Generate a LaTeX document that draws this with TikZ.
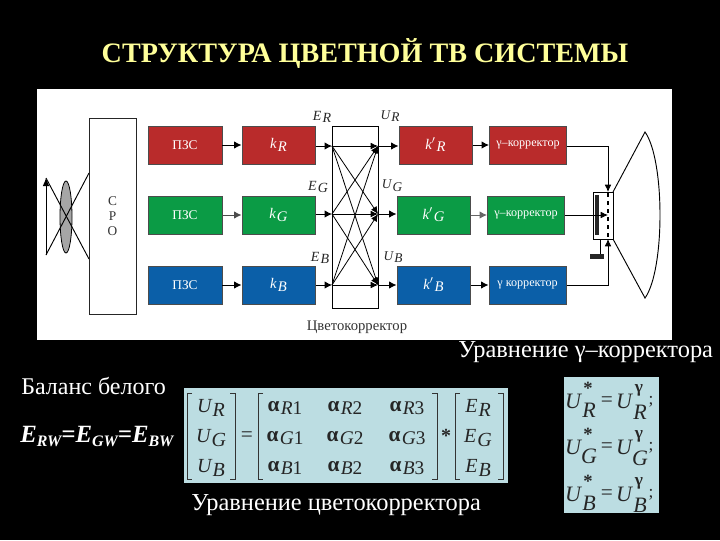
\documentclass[tikz,border=0pt]{standalone}
\usepackage{fontspec}
\setmainfont{Liberation Serif}
\usetikzlibrary{arrows.meta,shapes.geometric}
\definecolor{boxR}{HTML}{B92B2B}
\definecolor{boxG}{HTML}{0B9B45}
\definecolor{boxB}{HTML}{0B5FA8}
\definecolor{panel}{HTML}{BCDDE2}
\definecolor{titlecol}{HTML}{FFFF99}
\newcommand{\fs}[1]{\fontsize{#1}{#1}\selectfont}
\newcommand{\lowsub}[4]{{\fs{#3}\itshape #1}\kern.8pt\raisebox{-#4}{\fs{#3}\itshape #2}}
\newcommand{\alp}[2]{{\fs{16}\bfseries α}\kern1pt\raisebox{-2.5pt}{\fs{14.5}{\itshape #1}#2}}
\tikzset{
  colbox/.style={draw=black!70,line width=.5pt,minimum height=28.5pt,inner sep=0pt,text=white,font=\fs{10}},
  wire/.style={draw=black,line width=.7pt,-{Latex[length=5.5pt,width=5.5pt]}},
  plain/.style={draw=black,line width=.7pt},
  cross/.style={draw=black,line width=.6pt,-{Latex[length=5.5pt,width=5pt]}},
  caplabel/.style={inner sep=0pt,text=white,font=\fs{18.3}},
  siglab/.style={inner sep=0pt,text=black!85,font=\fs{10.5}},
  cell/.style={inner sep=0pt,text=black!85},
  geq/.style={inner sep=0pt,text=black!85,font=\fs{16.5}\itshape},
  gsym/.style={inner sep=0pt,text=black!85,font=\fs{16}},
}
\begin{document}
\begin{tikzpicture}[x=.75pt,y=-.75pt]
\useasboundingbox (0,0) rectangle (720,540);
\fill[black] (0,0) rectangle (720,540);
\fill[white] (37,89) rectangle (672,340);
\node[inner sep=0pt,text=titlecol,font=\fs{21.1}\bfseries] (title) at (365,54) {СТРУКТУРА ЦВЕТНОЙ ТВ СИСТЕМЫ};

% optics
\node[draw=black,line width=.6pt,fill=black!35,shape=ellipse,minimum width=9pt,minimum height=54pt,inner sep=0pt] (lens) at (66,217) {};
\coordinate (objB) at (46,255);
\coordinate (objT) at (46,178);
\coordinate (sroT) at (89,173);
\coordinate (sroB) at (89,259);
\draw[plain,-{Latex[length=6pt,width=5pt]}] (objB) -- (objT);
\draw[plain] (objT) -- (sroB);
\draw[plain] (objB) -- (sroT);
\node[draw=black!85,line width=.6pt,fill=white,minimum width=35.25pt,minimum height=147pt,inner sep=0pt,align=center,text=black!80,font=\fs{10}] (sro) at (112.5,216) {С\\[1pt]Р\\[1pt]О};

% row boxes
\node[colbox,fill=boxR,minimum width=55.5pt] (pzsR) at (185,145) {ПЗС};
\node[colbox,fill=boxG,minimum width=55.5pt] (pzsG) at (185,215) {ПЗС};
\node[colbox,fill=boxB,minimum width=55.5pt] (pzsB) at (185,285) {ПЗС};
\node[colbox,fill=boxR,minimum width=55pt] (kR) at (278.5,145) {\lowsub{k}{R}{11}{2pt}};
\node[colbox,fill=boxG,minimum width=55pt] (kG) at (278.5,215) {\lowsub{k}{G}{11}{2pt}};
\node[colbox,fill=boxB,minimum width=55pt] (kB) at (278.5,285) {\lowsub{k}{B}{11}{2pt}};
\node[colbox,fill=boxR,minimum width=55pt] (kpR) at (435.5,145) {\lowsub{k$'$}{R}{11}{2pt}};
\node[colbox,fill=boxG,minimum width=55pt] (kpG) at (433.5,215) {\lowsub{k$'$}{G}{11}{2pt}};
\node[colbox,fill=boxB,minimum width=55pt] (kpB) at (433.5,285) {\lowsub{k$'$}{B}{11}{2pt}};
\node[colbox,fill=boxR,minimum width=58pt,font=\fs{9.1}] (gamR) at (528,145) {γ–корректор};
\node[colbox,fill=boxG,minimum width=58pt,font=\fs{9.1}] (gamG) at (526,215) {γ–корректор};
\node[colbox,fill=boxB,minimum width=58pt,font=\fs{9.1}] (gamB) at (527.5,285) {γ корректор};

% colour corrector
\node[draw=black,line width=.7pt,minimum width=34.5pt,minimum height=136.5pt,inner sep=0pt] (cc) at (355,217) {};
\coordinate (inR) at (332,146);
\coordinate (inG) at (332,214);
\coordinate (inB) at (332,285);
\coordinate (outR) at (378,146);
\coordinate (outG) at (378,214);
\coordinate (outB) at (378,285);
\draw[wire] (pzsR) -- (kR);
\draw[wire,draw=black!70] (pzsG) -- (kG);
\draw[wire] (pzsB) -- (kB);
\draw[wire] (kR.east |- inR) -- (inR);
\draw[wire] (kG.east |- inG) -- (inG);
\draw[wire] (kB.east |- inB) -- (inB);
\foreach \a in {R,G,B}{\foreach \b in {R,G,B}{\draw[cross] (in\a) -- (out\b);}}
\draw[wire] (outR) -- (kpR.west |- outR);
\draw[wire] (outG) -- (kpG.west |- outG);
\draw[wire] (outB) -- (kpB.west |- outB);
\draw[wire] (kpR) -- (gamR);
\draw[wire,draw=black!60] (kpG) -- (gamG);
\draw[wire] (kpB) -- (gamB);

% signal labels
\node[siglab] (eR) at (322,117) {\lowsub{E}{R}{10.5}{2pt}};
\node[siglab] (eG) at (318,187) {\lowsub{E}{G}{10.5}{2pt}};
\node[siglab] (eB) at (320,258) {\lowsub{E}{B}{10.5}{2pt}};
\node[siglab] (uR) at (390,116) {\lowsub{U}{R}{10}{2pt}};
\node[siglab] (uG) at (392,186) {\lowsub{U}{G}{10}{2pt}};
\node[siglab] (uB) at (393,257) {\lowsub{U}{B}{10}{2pt}};
\node[inner sep=0pt,text=black!80,font=\fs{11}] (cclab) at (357,327) {Цветокорректор};

% tube
\node[draw=black,line width=.7pt,minimum width=15pt,minimum height=35.25pt,inner sep=0pt] (neck) at (603,215.5) {};
\fill[black!85] (595,195) rectangle (599,235);
\draw[black,line width=.8pt,dashed] (608,193) -- (608,239);
\coordinate (scrT) at (645,132);
\coordinate (scrB) at (645,298);
\coordinate (entR) at (608,192);
\coordinate (entB) at (608,239);
\coordinate (entG) at (608,215);
\coordinate (cornR) at (608,146);
\coordinate (cornB) at (608,285);
\coordinate (gnd) at (600,255);
\draw[plain] (613,192) -- (scrT) .. controls (665,160) and (665,270) .. (scrB) -- (613,239);
\draw[plain,line width=.6pt,-{Latex[length=5.5pt,width=5pt]}] (gamR.east |- cornR) -- (cornR) -- (entR);
\draw[plain,line width=.6pt,-{Latex[length=5.5pt,width=5pt]}] (gamB.east |- cornB) -- (cornB) -- (entB);
\draw[plain,line width=.6pt,-{Latex[length=5.5pt,width=5pt]}] (gamG.east |- entG) -- (entG);
\draw[plain] (600,239) -- (gnd);
\fill[black!85] (590,254) rectangle (604,259);

% captions
\node[caplabel,anchor=west] (capG) at (458,352) {Уравнение γ–корректора};
\node[caplabel,anchor=west,font=\fs{18}] (capW) at (21,386) {Баланс белого};
\node[caplabel,anchor=west,font=\fs{18.6}\bfseries\itshape] (bal) at (20,436) {E\raisebox{-3pt}{\fs{12}RW}=E\raisebox{-3pt}{\fs{12}GW}=E\raisebox{-3pt}{\fs{12}BW}};
\node[caplabel,anchor=west] (capC) at (191,505) {Уравнение цветокорректора};

% matrix panel
\fill[panel] (184,388) rectangle (508,483);
\foreach \x/\d in {187/1,235/-1,258/1,437/-1,455/1,503/-1}{
  \draw[black!80,line width=.6pt] (\x+\d*5,393) -- (\x,393) -- (\x,479) -- (\x+\d*5,479);
}
\node[cell] (mUR) at (211,408) {\lowsub{U}{R}{15}{2.5pt}};
\node[cell] (mUG) at (211,438) {\lowsub{U}{G}{15}{2.5pt}};
\node[cell] (mUB) at (211,468) {\lowsub{U}{B}{15}{2.5pt}};
\node[cell,font=\fs{16}] (mEq) at (247,437) {=};
\node[cell] (a11) at (285,408) {\alp{R}{1}};
\node[cell] (a12) at (345,408) {\alp{R}{2}};
\node[cell] (a13) at (407,408) {\alp{R}{3}};
\node[cell] (a21) at (285,438) {\alp{G}{1}};
\node[cell] (a22) at (345,438) {\alp{G}{2}};
\node[cell] (a23) at (407,438) {\alp{G}{3}};
\node[cell] (a31) at (285,468) {\alp{B}{1}};
\node[cell] (a32) at (345,468) {\alp{B}{2}};
\node[cell] (a33) at (407,468) {\alp{B}{3}};
\node[cell,font=\fs{15}\bfseries] (mStar) at (446,436) {*};
\node[cell] (mER) at (478,408) {\lowsub{E}{R}{15}{2.5pt}};
\node[cell] (mEG) at (478,438) {\lowsub{E}{G}{15}{2.5pt}};
\node[cell] (mEB) at (478,468) {\lowsub{E}{B}{15}{2.5pt}};

% gamma panel
\fill[panel] (564,377) rectangle (659,513);
\foreach \n/\s/\y in {1/R/0,2/G/46,3/B/93}{
  \node[geq] (gu\n) at (573,401+\y) {U};
  \node[gsym,font=\fs{14}\bfseries] (gs\n) at (588,388+\y) {*};
  \node[geq] (gr\n) at (589,410+\y) {\s};
  \node[gsym] (ge\n) at (607,402+\y) {=};
  \node[geq] (gv\n) at (624,401+\y) {U};
  \node[gsym,font=\fs{13}\bfseries] (gg\n) at (639,390+\y) {γ};
  \node[geq] (gt\n) at (640,412+\y) {\s};
  \node[gsym,font=\fs{13}] (gc\n) at (651,402+\y) {;};
}
\end{tikzpicture}
\end{document}
